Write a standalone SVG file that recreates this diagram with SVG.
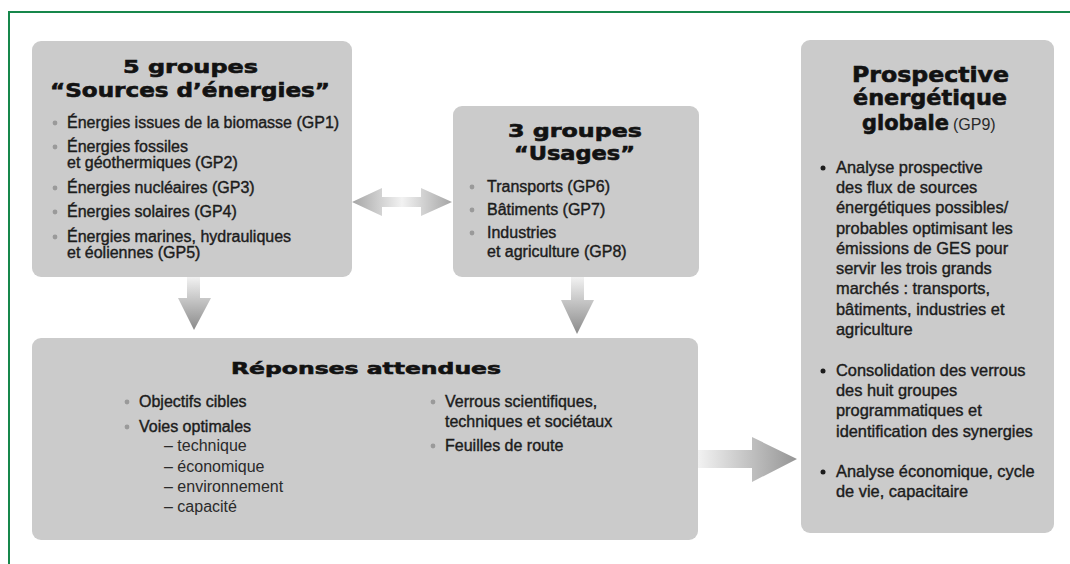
<svg xmlns="http://www.w3.org/2000/svg" width="1070" height="564" viewBox="0 0 1070 564">
<style>
.box{fill:#cbcbcb}
.h{font-family:"DejaVu Sans",sans-serif;font-weight:bold;fill:#121212;stroke:#121212;stroke-width:0.6}
.b{font-family:"Liberation Sans",Arial,sans-serif;font-size:16px;fill:#1c1c1c;stroke:#1c1c1c;stroke-width:0.4}
.r{font-family:"Liberation Sans",Arial,sans-serif;font-size:16px;fill:#2a2a2a}
.p{font-family:"Liberation Sans",Arial,sans-serif;font-size:16.4px;fill:#1c1c1c;stroke:#1c1c1c;stroke-width:0.4}
.gd{fill:#9a9a9a}
.kd{fill:#1c1c1c}
</style>
<defs>
<linearGradient id="gDown" x1="0" y1="0" x2="0" y2="1">
<stop offset="0" stop-color="#f2f2f2"/>
<stop offset="1" stop-color="#8a8a8a"/>
</linearGradient>
<linearGradient id="gRight" x1="0" y1="0" x2="1" y2="0">
<stop offset="0" stop-color="#f2f2f2"/>
<stop offset="1" stop-color="#959595"/>
</linearGradient>
<linearGradient id="gBoth" x1="0" y1="0" x2="1" y2="0">
<stop offset="0" stop-color="#a5a5a5"/>
<stop offset="0.5" stop-color="#f2f2f2"/>
<stop offset="1" stop-color="#a5a5a5"/>
</linearGradient>
</defs>
<rect x="0" y="0" width="1070" height="564" fill="#ffffff"/>
<g id="frame" fill="none" stroke="#16874b" stroke-width="2">
<path d="M9,564 V12 H1070"/>
</g>

<g id="connectors">
<polygon fill="url(#gBoth)" points="352,202 382,188 382,197 421,197 421,188 452,202 421,216 421,207 382,207 382,216"/>
<polygon fill="url(#gDown)" points="187,277 200,277 200,298 211,298 194,330 178,298 187,298"/>
<polygon fill="url(#gDown)" points="571,277 584,277 584,300 594,300 577,334 561,300 571,300"/>
<polygon fill="url(#gRight)" points="698,450 752,450 752,437 797,459 752,482 752,468 698,468"/>
</g>

<g id="sources">
<rect class="box" x="32" y="41" width="320" height="236" rx="9"/>
<text class="h" x="123" y="73" font-size="18" textLength="135" lengthAdjust="spacingAndGlyphs">5 groupes</text>
<text class="h" x="50" y="97" font-size="19" textLength="280" lengthAdjust="spacingAndGlyphs">“Sources d’énergies”</text>
<circle class="gd" cx="55" cy="123" r="2.4"/>
<circle class="gd" cx="55" cy="147" r="2.4"/>
<circle class="gd" cx="55" cy="188" r="2.4"/>
<circle class="gd" cx="55" cy="212" r="2.4"/>
<circle class="gd" cx="55" cy="237" r="2.4"/>
<text class="b" x="67" y="128">Énergies issues de la biomasse (GP1)</text>
<text class="b" x="67" y="152">Énergies fossiles</text>
<text class="b" x="67" y="168">et géothermiques (GP2)</text>
<text class="b" x="67" y="193">Énergies nucléaires (GP3)</text>
<text class="b" x="67" y="217">Énergies solaires (GP4)</text>
<text class="b" x="67" y="242">Énergies marines, hydrauliques</text>
<text class="b" x="67" y="258">et éoliennes (GP5)</text>
</g>

<g id="usages">
<rect class="box" x="453" y="106" width="246" height="171" rx="9"/>
<text class="h" x="508" y="137" font-size="18" textLength="134" lengthAdjust="spacingAndGlyphs">3 groupes</text>
<text class="h" x="514" y="160" font-size="19" textLength="121" lengthAdjust="spacingAndGlyphs">“Usages”</text>
<circle class="gd" cx="472" cy="187" r="2.4"/>
<circle class="gd" cx="472" cy="210" r="2.4"/>
<circle class="gd" cx="472" cy="233" r="2.4"/>
<text class="b" x="487" y="192">Transports (GP6)</text>
<text class="b" x="487" y="215">Bâtiments (GP7)</text>
<text class="b" x="487" y="238">Industries</text>
<text class="b" x="487" y="257">et agriculture (GP8)</text>
</g>

<g id="reponses">
<rect class="box" x="32" y="338" width="666" height="202" rx="9"/>
<text class="h" x="231" y="374" font-size="16.5" textLength="270" lengthAdjust="spacingAndGlyphs">Réponses attendues</text>
<circle class="gd" cx="127" cy="402" r="2.4"/>
<circle class="gd" cx="127" cy="427" r="2.4"/>
<text class="b" x="139" y="407">Objectifs cibles</text>
<text class="b" x="139" y="432">Voies optimales</text>
<text class="r" x="164" y="451">– technique</text>
<text class="r" x="164" y="472">– économique</text>
<text class="r" x="164" y="492">– environnement</text>
<text class="r" x="164" y="512">– capacité</text>
<circle class="gd" cx="433" cy="402" r="2.4"/>
<circle class="gd" cx="433" cy="446" r="2.4"/>
<text class="b" x="445" y="407">Verrous scientifiques,</text>
<text class="b" x="445" y="427">techniques et sociétaux</text>
<text class="b" x="445" y="451">Feuilles de route</text>
</g>

<g id="prospective">
<rect class="box" x="801" y="40" width="253" height="493" rx="9"/>
<text class="h" x="852" y="82" font-size="20.5" textLength="157" lengthAdjust="spacingAndGlyphs">Prospective</text>
<text class="h" x="853" y="105" font-size="20.5" textLength="154" lengthAdjust="spacingAndGlyphs">énergétique</text>
<text class="h" x="862" y="130" font-size="20.5" textLength="87" lengthAdjust="spacingAndGlyphs">globale</text>
<text class="r" x="953" y="130" font-size="15">(GP9)</text>
<circle class="kd" cx="823" cy="168" r="2.5"/>
<circle class="kd" cx="823" cy="371" r="2.5"/>
<circle class="kd" cx="823" cy="472" r="2.5"/>
<text class="p" x="836" y="173">Analyse prospective</text>
<text class="p" x="836" y="193">des flux de sources</text>
<text class="p" x="836" y="213">énergétiques possibles/</text>
<text class="p" x="836" y="234">probables optimisant les</text>
<text class="p" x="836" y="254">émissions de GES pour</text>
<text class="p" x="836" y="274">servir les trois grands</text>
<text class="p" x="836" y="294">marchés : transports,</text>
<text class="p" x="836" y="315">bâtiments, industries et</text>
<text class="p" x="836" y="335">agriculture</text>
<text class="p" x="836" y="376">Consolidation des verrous</text>
<text class="p" x="836" y="396">des huit groupes</text>
<text class="p" x="836" y="416">programmatiques et</text>
<text class="p" x="836" y="437">identification des synergies</text>
<text class="p" x="836" y="477">Analyse économique, cycle</text>
<text class="p" x="836" y="497">de vie, capacitaire</text>
</g>
</svg>
